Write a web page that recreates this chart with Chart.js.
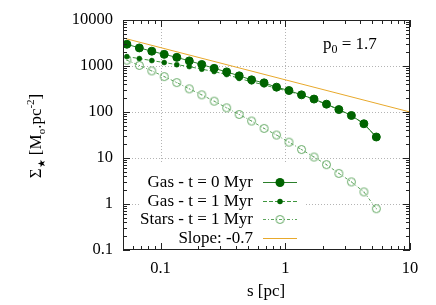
<!DOCTYPE html>
<html lang="en">
<head>
<meta charset="UTF-8">
<title>Surface density profiles</title>
<script src="https://cdn.jsdelivr.net/npm/chart.js@4.4.1/dist/chart.umd.min.js"></script>
<style>
  html, body { margin: 0; padding: 0; background: #fff; }
  #wrap { width: 436px; height: 305px; }
</style>
</head>
<body>
<div id="wrap"><canvas id="chart" width="436" height="305"></canvas></div>
<script>
// radius s [pc]
const radii = [0.0537, 0.0676, 0.0851, 0.107, 0.135, 0.170, 0.214, 0.269, 0.339, 0.427, 0.537,
               0.676, 0.851, 1.07, 1.35, 1.70, 2.14, 2.69, 3.39, 4.27, 5.37];
// surface densities [Msun pc^-2]
const gasT0 = [2970, 2470, 2100, 1790, 1540, 1290, 1080, 888, 745, 610, 500,
               430, 347, 293, 236, 191, 148, 113, 84, 55.5, 28.6];
const gasT1 = [1600, 1450, 1310, 1190, 1070, 970, 853, 757, 651, 538, 452,
               389, 327, 281, 233, 187, 147, 112, 83, 55.5, 28.3];
const starsT1 = [1337, 1030, 783, 589, 436, 319, 236, 172, 123, 88.4, 63.6,
                 44, 31.6, 22.1, 15.3, 10.5, 7.16, 4.63, 3.02, 1.83, 0.79];
// reference power law, slope -0.7
const slopeX = [0.05, 10];
const slopeY = [4080, 100];

const xTicks = [0.1, 1, 10];
const xTickLabels = ['0.1', '1', '10'];
const yTicks = [0.1, 1, 10, 100, 1000, 10000];
const yTickLabels = ['0.1', '1', '10', '100', '1000', '10000'];
const legendLabels = ['Gas - t = 0 Myr', 'Gas - t = 1 Myr', 'Stars - t = 1 Myr', 'Slope: -0.7'];

const SERIF = '"Liberation Serif", "DejaVu Serif", serif';
const DARK = '#006400';
const LIGHT = '#5ea65e';
const ORANGE = '#e8a92c';

// open circle with a dot in the middle (gnuplot style)
function ringPoint() {
  const c = document.createElement('canvas');
  c.width = 11; c.height = 11;
  const g = c.getContext('2d');
  g.strokeStyle = LIGHT;
  g.lineWidth = 1;
  g.beginPath(); g.arc(5.5, 5.5, 4, 0, Math.PI * 2); g.stroke();
  g.fillStyle = LIGHT;
  g.fillRect(5, 5, 1, 1);
  return c;
}
const ring = ringPoint();

const pts = ys => radii.map((x, i) => ({ x: x, y: ys[i] }));

const datasets = [
  { label: legendLabels[0], data: pts(gasT0), showLine: true,
    borderColor: '#2b7f2b', borderWidth: 1,
    pointRadius: 4, pointBorderWidth: 1, pointBackgroundColor: DARK, pointBorderColor: DARK },
  { label: legendLabels[1], data: pts(gasT1), showLine: true,
    borderColor: '#3f963f', borderWidth: 1, borderDash: [4, 2],
    pointRadius: 2.5, pointBorderWidth: 0.5, pointBackgroundColor: DARK, pointBorderColor: DARK },
  { label: legendLabels[2], data: pts(starsT1), showLine: true,
    borderColor: LIGHT, borderWidth: 1, borderDash: [3, 2, 1, 2],
    pointStyle: ring, pointRadius: 4 },
  { label: legendLabels[3], data: slopeX.map((x, i) => ({ x: x, y: slopeY[i] })), showLine: true,
    borderColor: ORANGE, borderWidth: 1, pointRadius: 0 }
];

function decadeTicks(min, max) {
  const out = [];
  for (let e = Math.floor(Math.log10(min)); e <= Math.ceil(Math.log10(max)); e++) {
    for (let m = 1; m < 10; m++) {
      const v = m * Math.pow(10, e);
      if (v >= min * 0.999 && v <= max * 1.001) out.push({ v: v, major: m === 1 });
    }
  }
  return out;
}

const framePlugin = {
  id: 'frame',
  beforeDatasetsDraw(chart) {
    const { ctx, chartArea: a, scales: { x, y } } = chart;
    ctx.save();
    ctx.strokeStyle = '#b4b4b4';
    ctx.lineWidth = 1;
    ctx.setLineDash([1, 2]);
    xTicks.forEach(v => {
      const px = Math.round(x.getPixelForValue(v)) + 0.5;
      if (px <= a.left + 1 || px >= a.right - 1) return;
      ctx.beginPath(); ctx.moveTo(px, a.top); ctx.lineTo(px, a.bottom); ctx.stroke();
    });
    yTicks.forEach(v => {
      const py = Math.round(y.getPixelForValue(v)) + 0.5;
      if (py <= a.top + 1 || py >= a.bottom - 1) return;
      ctx.beginPath(); ctx.moveTo(a.left, py); ctx.lineTo(a.right, py); ctx.stroke();
    });
    ctx.restore();
  },
  afterDatasetsDraw(chart) {
    const { ctx, chartArea: a, scales: { x, y } } = chart;
    ctx.save();

    // key box
    ctx.fillStyle = '#fff';
    ctx.fillRect(140, 163, 165, a.bottom - 163);
    const rows = [182, 200.5, 219, 237.5];
    ctx.font = '17px ' + SERIF;
    ctx.fillStyle = '#000';
    ctx.textAlign = 'right';
    ctx.textBaseline = 'middle';
    rows.forEach((ry, i) => {
      ctx.fillStyle = '#000';
      ctx.fillText(legendLabels[i], 253, ry + 1);
      const ds = datasets[i];
      ctx.strokeStyle = ds.borderColor;
      ctx.lineWidth = 1;
      ctx.setLineDash(ds.borderDash || []);
      ctx.beginPath(); ctx.moveTo(263, Math.round(ry) + 0.5); ctx.lineTo(297, Math.round(ry) + 0.5); ctx.stroke();
      ctx.setLineDash([]);
      if (i === 2) {
        ctx.drawImage(ring, 280 - 5.5, Math.round(ry) + 0.5 - 5.5);
      } else if (i < 2) {
        ctx.fillStyle = DARK;
        ctx.beginPath(); ctx.arc(280, Math.round(ry) + 0.5, ds.pointRadius + ds.pointBorderWidth / 2, 0, Math.PI * 2); ctx.fill();
      }
    });

    // border
    ctx.strokeStyle = '#222';
    ctx.lineWidth = 1;
    ctx.strokeRect(a.left + 0.5, a.top + 0.5, a.right - a.left - 1, a.bottom - a.top - 1);

    // tick marks on all four sides
    ctx.beginPath();
    decadeTicks(x.min, x.max).forEach(t => {
      const px = Math.round(x.getPixelForValue(t.v)) + 0.5;
      const len = t.major ? 7 : 4;
      ctx.moveTo(px, a.bottom); ctx.lineTo(px, a.bottom - len);
      ctx.moveTo(px, a.top); ctx.lineTo(px, a.top + len);
    });
    decadeTicks(y.min, y.max).forEach(t => {
      const py = Math.round(y.getPixelForValue(t.v)) + 0.5;
      const len = t.major ? 7 : 4;
      ctx.moveTo(a.left, py); ctx.lineTo(a.left + len, py);
      ctx.moveTo(a.right, py); ctx.lineTo(a.right - len, py);
    });
    ctx.stroke();

    // annotation p0 = 1.7
    ctx.fillStyle = '#000';
    ctx.textAlign = 'left';
    ctx.textBaseline = 'alphabetic';
    ctx.font = '17px ' + SERIF;
    let cx = 323;
    ctx.fillText('p', cx, 49); cx += ctx.measureText('p').width;
    ctx.font = '12px ' + SERIF;
    ctx.fillText('0', cx, 53); cx += ctx.measureText('0').width;
    ctx.font = '17px ' + SERIF;
    ctx.fillText(' = 1.7', cx, 49);

    // x title
    ctx.textAlign = 'center';
    ctx.fillText('s [pc]', 266, 296);

    // y title with sub/superscripts
    const parts = [
      ['Σ', 17, 0], ['★', 10, 4], [' [M', 17, 0], ['o', 11, 4], ['.pc', 17, 0], ['-2', 11, -7], [']', 17, 0]
    ];
    let w = 0;
    parts.forEach(p => { ctx.font = p[1] + 'px ' + SERIF; w += ctx.measureText(p[0]).width; });
    ctx.translate(41, 136);
    ctx.rotate(-Math.PI / 2);
    ctx.textAlign = 'left';
    let tx = -w / 2;
    parts.forEach(p => {
      ctx.font = p[1] + 'px ' + SERIF;
      ctx.fillText(p[0], tx, p[2]);
      tx += ctx.measureText(p[0]).width;
    });
    ctx.restore();
  }
};

new Chart(document.getElementById('chart'), {
  type: 'scatter',
  data: { datasets: datasets },
  options: {
    responsive: false,
    animation: false,
    layout: { padding: { top: 20, right: 26, left: 0, bottom: 0 } },
    plugins: { legend: { display: false }, tooltip: { enabled: false } },
    scales: {
      x: {
        type: 'logarithmic', min: 0.05, max: 10,
        grid: { display: false, drawTicks: false },
        border: { display: false },
        afterBuildTicks: s => { s.ticks = xTicks.map(v => ({ value: v })); },
        afterFit: s => { s.height = 55; },
        ticks: {
          autoSkip: false, maxRotation: 0, padding: 9, color: '#000',
          font: { family: SERIF, size: 16.5 },
          callback: v => xTickLabels[xTicks.indexOf(v)]
        }
      },
      y: {
        type: 'logarithmic', min: 0.1, max: 10000,
        grid: { display: false, drawTicks: false },
        border: { display: false },
        afterBuildTicks: s => { s.ticks = yTicks.map(v => ({ value: v })); },
        afterFit: s => { s.width = 123; },
        ticks: {
          autoSkip: false, padding: 10, color: '#000',
          font: { family: SERIF, size: 16.5 },
          callback: v => yTickLabels[yTicks.indexOf(v)]
        }
      }
    }
  },
  plugins: [framePlugin]
});
</script>
</body>
</html>
